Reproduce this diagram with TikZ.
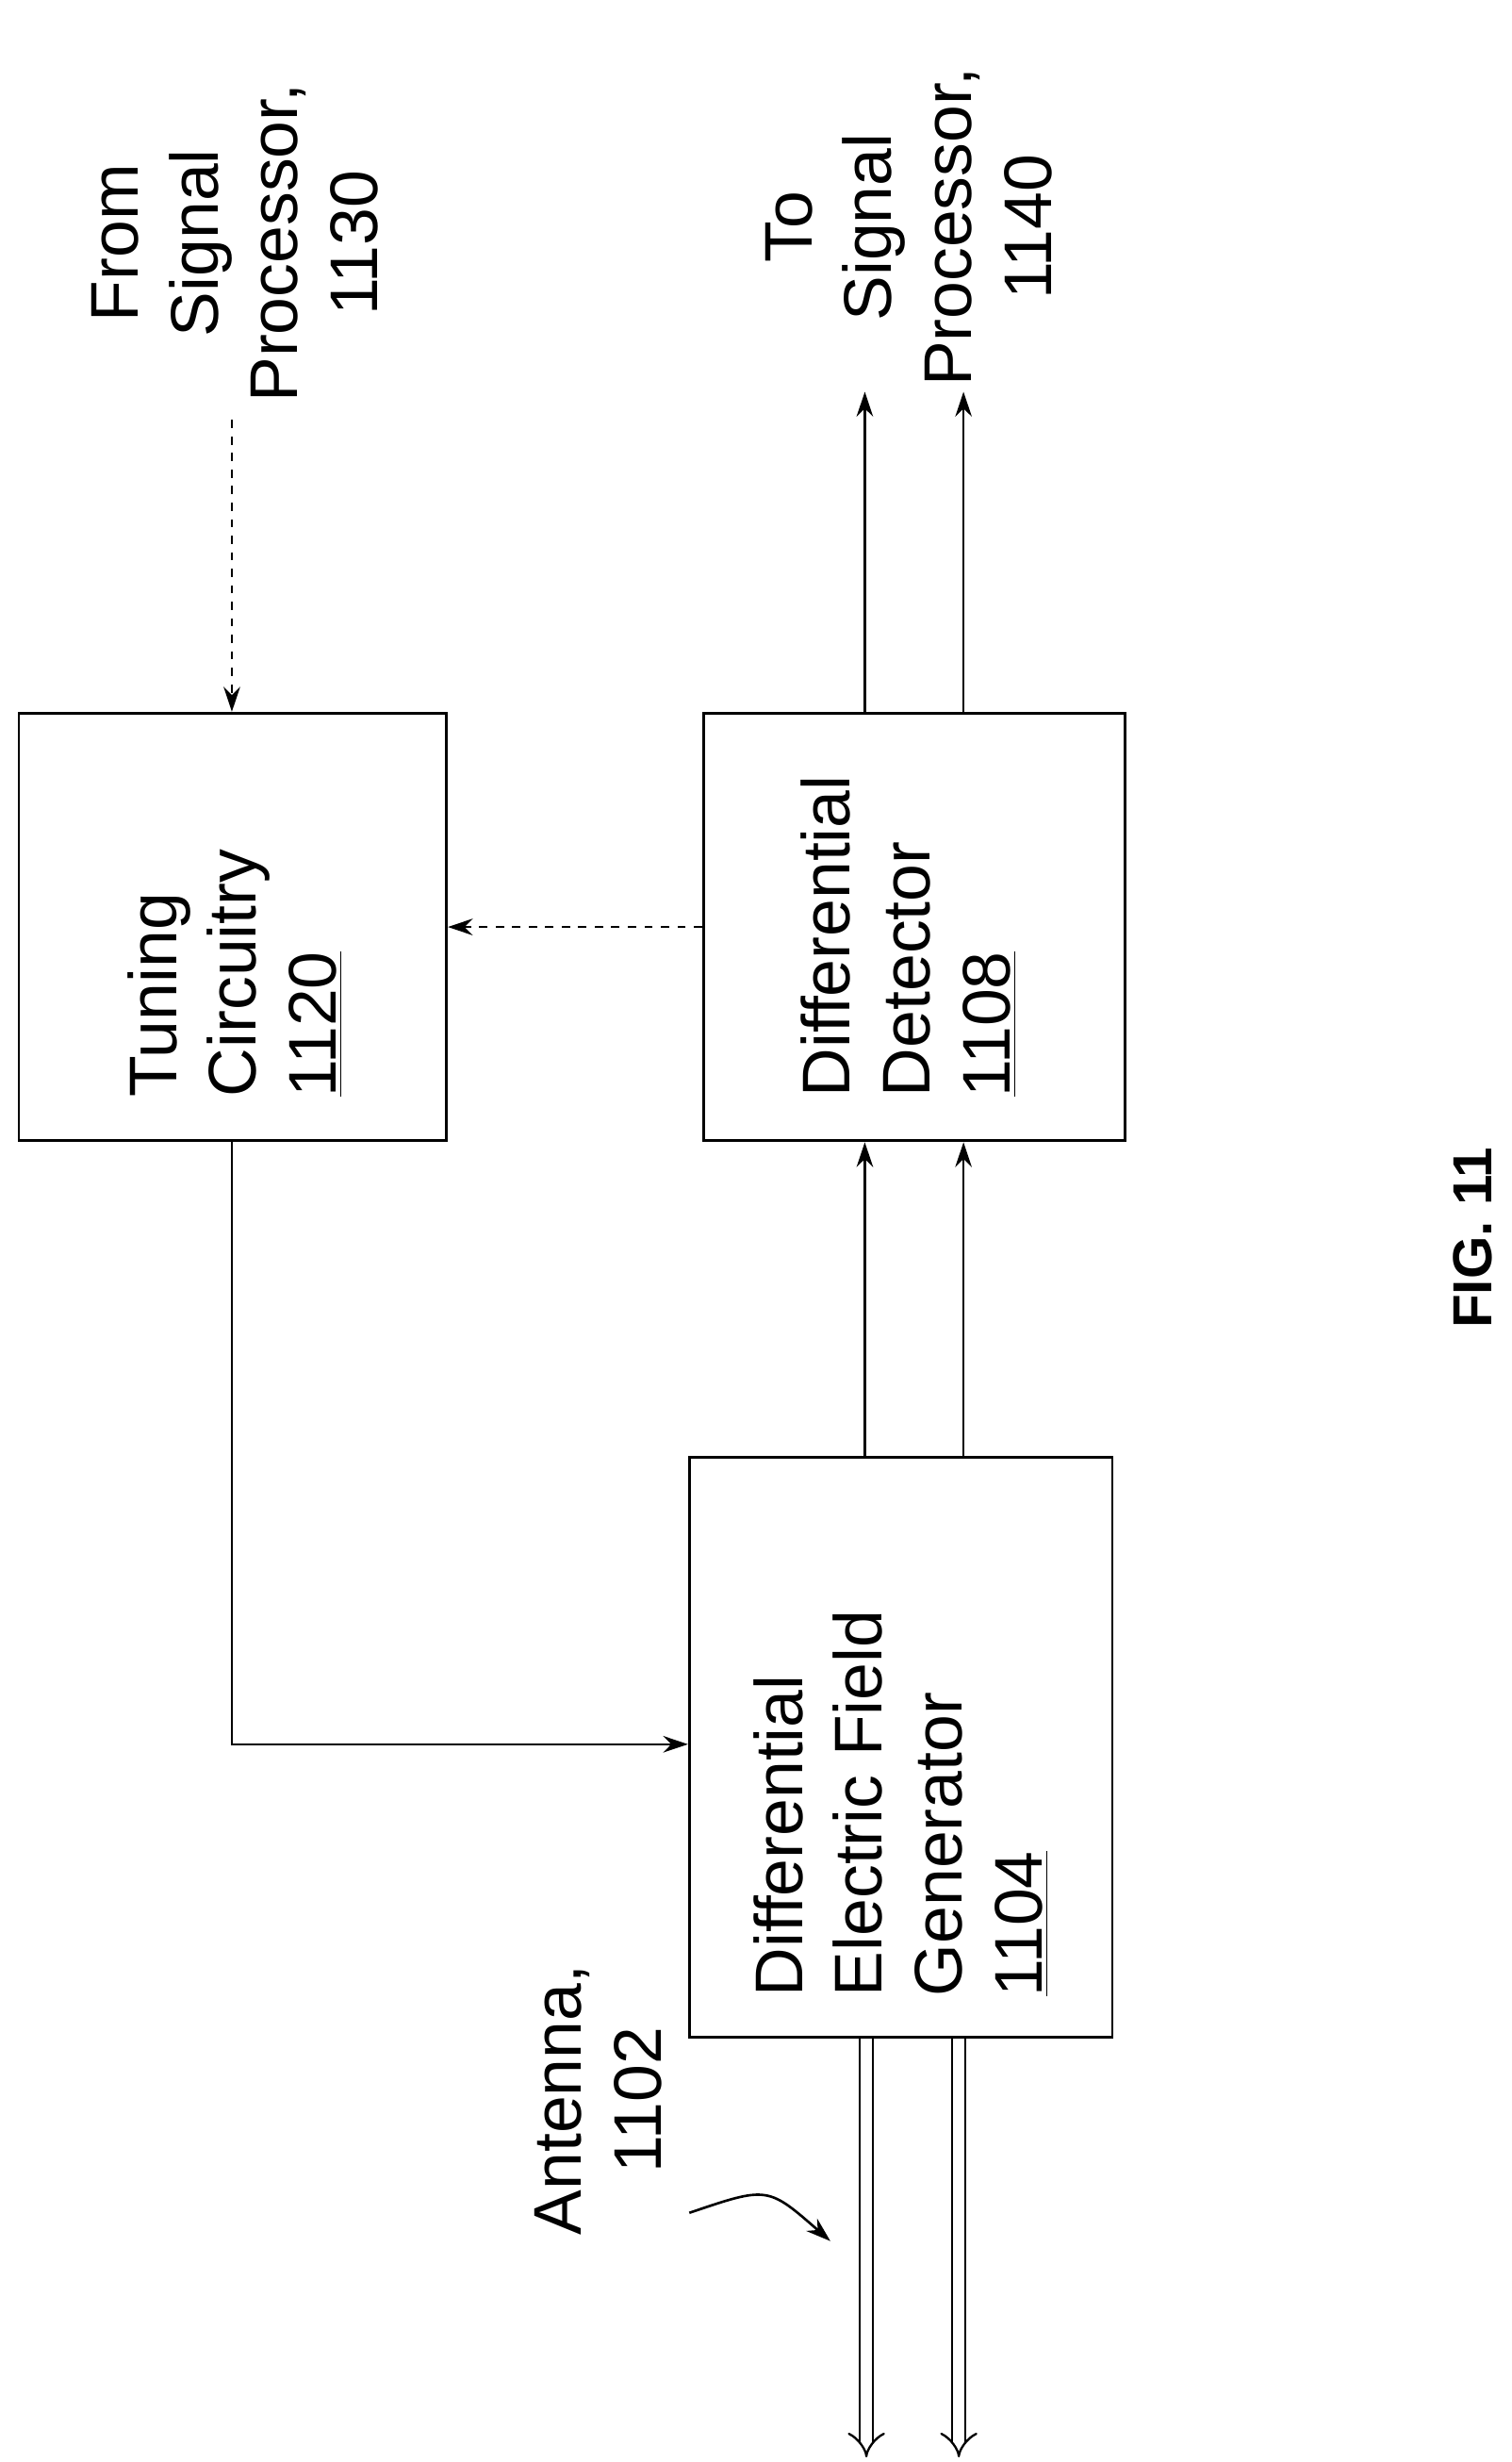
\documentclass[tikz,border=0pt]{standalone}
\usepackage{fontspec}
\setmainfont{Liberation Sans}
\usetikzlibrary{arrows.meta}
\usetikzlibrary{shapes}

\begin{document}
\begin{tikzpicture}[x = 0.02cm, y = -0.02cm]
\tikzset{blockStyle/.style = {draw, line width = 1pt, inner sep = 0pt}}
\tikzset{textStyle/.style = {rotate = 90, align = center, font = \fontsize{24.5}{29}\selectfont}}
\tikzset{blockTextStyle/.style = {textStyle, align = left, anchor = west}}
\tikzset{lineStyle/.style = {line width = 0.9pt, -{Stealth[length = 9pt, width = 6pt]}}}
\tikzset{dashStyle/.style = {lineStyle, dashed}}
\tikzset{busStyle/.style = {draw = black, double = white, double distance = 4pt, line width = 0.8pt, -{Implies}}}
\useasboundingbox (0,0) rectangle (965,1571);
\node[blockStyle, minimum width = 5.46cm, minimum height = 5.46cm] (tun) at (148.5,591.5) {};
\node[blockStyle, minimum width = 5.38cm, minimum height = 5.46cm] (det) at (583.5,591.5) {};
\node[blockStyle, minimum width = 5.40cm, minimum height = 7.40cm] (gen) at (575,1115) {};
\node[blockTextStyle] (tunT) at (150,706) {Tuning\\Circuitry\\\underline{1120}};
\node[blockTextStyle] (detT) at (580,706) {Differential\\Detector\\\underline{1108}};
\node[blockTextStyle] (genT) at (575,1280) {Differential\\Electric Field\\Generator\\\underline{1104}};
\node[textStyle] (fromT) at (150,155) {From\\Signal\\Processor,\\1130};
\node[textStyle] (toT) at (580,145) {To\\Signal\\Processor,\\1140};
\node[textStyle] (antT) at (382,1340) {Antenna,\\1102};
\node[textStyle, font = \fontsize{20}{24}\selectfont\bfseries] (fig) at (940,790) {FIG. 11};
\coordinate (xa) at (552,0);
\coordinate (xb) at (615,0);
\coordinate (fromE) at (148,268);
\coordinate (outA) at (552,250);
\coordinate (outB) at (615,250);
\coordinate (antA) at (553,1568);
\coordinate (antB) at (612,1568);
\coordinate (bend) at (148,1113);
% tuning loop
\draw[dashStyle] (fromE) -- (tun.north -| fromE);
\draw[dashStyle] (det.west) -- (tun.east);
\draw[lineStyle] (tun.south -| bend) -- (bend) -- (gen.west |- bend);
% signal paths
\draw[lineStyle] (gen.north -| xa) -- (det.south -| xa);
\draw[lineStyle] (gen.north -| xb) -- (det.south -| xb);
\draw[lineStyle] (det.north -| xa) -- (outA);
\draw[lineStyle] (det.north -| xb) -- (outB);
% antenna
\draw[busStyle] (gen.south -| antA) -- (antA);
\draw[busStyle] (gen.south -| antB) -- (antB);
\draw[lineStyle] (440,1412) .. controls (490,1395) .. (530,1430);
\end{tikzpicture}
\end{document}
